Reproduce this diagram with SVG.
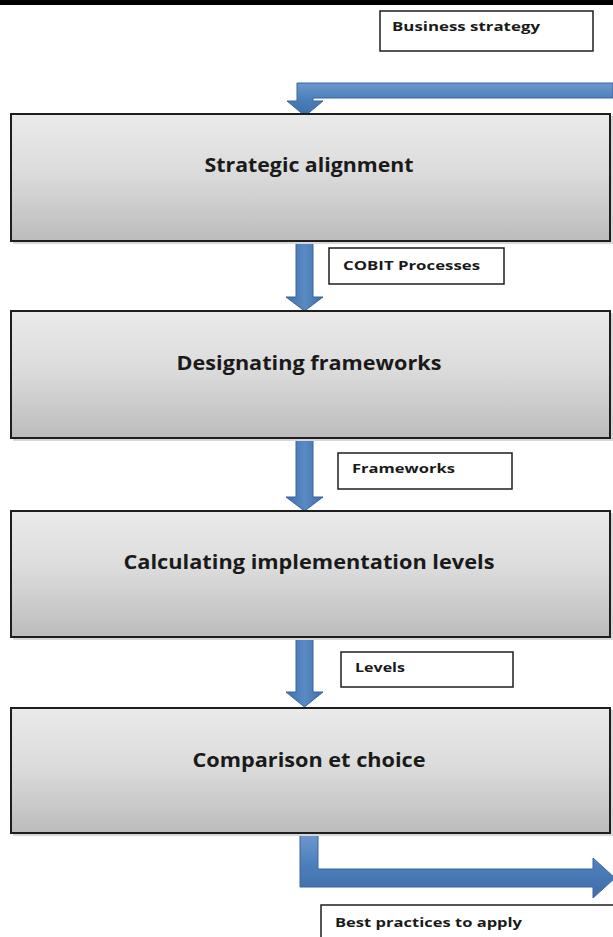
<svg xmlns="http://www.w3.org/2000/svg" width="613" height="937" viewBox="0 0 613 937">
<defs>
<linearGradient id="boxg" x1="0" y1="0" x2="0" y2="1">
<stop offset="0" stop-color="#EAEAEA"/>
<stop offset="0.45" stop-color="#DCDCDC"/>
<stop offset="1" stop-color="#BCBCBC"/>
</linearGradient>
<linearGradient id="arrh" x1="0" y1="0" x2="0" y2="1">
<stop offset="0" stop-color="#6E98CC"/>
<stop offset="0.5" stop-color="#4A7EBB"/>
<stop offset="1" stop-color="#3F6EA8"/>
</linearGradient>
<linearGradient id="arrv" x1="0" y1="0" x2="1" y2="0">
<stop offset="0" stop-color="#3F6EA8"/>
<stop offset="0.5" stop-color="#5A8AC4"/>
<stop offset="1" stop-color="#3F6EA8"/>
</linearGradient>
</defs>
<style>
.box{fill:url(#boxg);stroke:#1E1E1E;stroke-width:2}
.shadow{fill:#D8D8D8}
.lbl{fill:#FFFFFF;stroke:#1E1E1E;stroke-width:1.5}
.main{font-family:"Open Sans","Liberation Sans",sans-serif;font-weight:700;font-size:19px;fill:#1A1A1A;text-anchor:middle}
.small{font-family:"Open Sans","Liberation Sans",sans-serif;font-weight:700;font-size:12.5px;fill:#1A1A1A}
.arr{stroke:#3A659C;stroke-width:1}
</style>
<rect x="0" y="0" width="613" height="5" fill="#000000"/>

<g id="connectors">
<path class="arr" fill="url(#arrh)" d="M613,83 L297,83 L297,101 L287,101 L305,116 L323,101 L313,101 L313,98 L613,98 Z"/>
<path class="arr" fill="url(#arrv)" d="M296,242 L313,242 L313,297 L323,297 L304.5,311 L286,297 L296,297 Z"/>
<path class="arr" fill="url(#arrv)" d="M296,439 L313,439 L313,497 L323,497 L304.5,511 L286,497 L296,497 Z"/>
<path class="arr" fill="url(#arrv)" d="M296,638 L313,638 L313,692 L323,692 L304.5,707 L286,692 L296,692 Z"/>
<path class="arr" fill="url(#arrh)" d="M300,834 L318,834 L318,869 L593,869 L593,858 L615,878 L593,898 L593,887 L300,887 Z"/>
</g>

<g id="business-strategy">
<rect class="lbl" x="380" y="11" width="213" height="40"/>
<text class="small" x="392" y="31" textLength="148" lengthAdjust="spacingAndGlyphs">Business strategy</text>
</g>

<g id="strategic-alignment">
<rect class="shadow" x="13" y="116" width="600" height="128"/>
<rect class="box" x="11" y="114" width="599" height="127"/>
<text class="main" x="309" y="172" textLength="209" lengthAdjust="spacingAndGlyphs">Strategic alignment</text>
</g>

<g id="cobit-processes">
<rect class="lbl" x="329" y="248" width="175" height="36"/>
<text class="small" x="343" y="270" textLength="137" lengthAdjust="spacingAndGlyphs">COBIT Processes</text>
</g>

<g id="designating-frameworks">
<rect class="shadow" x="13" y="313" width="600" height="128"/>
<rect class="box" x="11" y="311" width="599" height="127"/>
<text class="main" x="309" y="370" textLength="265" lengthAdjust="spacingAndGlyphs">Designating frameworks</text>
</g>

<g id="frameworks">
<rect class="lbl" x="338" y="453" width="174" height="36"/>
<text class="small" x="352" y="473" textLength="103" lengthAdjust="spacingAndGlyphs">Frameworks</text>
</g>

<g id="calculating-levels">
<rect class="shadow" x="13" y="513" width="600" height="127"/>
<rect class="box" x="11" y="511" width="599" height="126"/>
<text class="main" x="309" y="569" textLength="371" lengthAdjust="spacingAndGlyphs">Calculating implementation levels</text>
</g>

<g id="levels">
<rect class="lbl" x="341" y="652" width="172" height="35"/>
<text class="small" x="355" y="672" textLength="50" lengthAdjust="spacingAndGlyphs">Levels</text>
</g>

<g id="comparison-choice">
<rect class="shadow" x="13" y="710" width="600" height="126"/>
<rect class="box" x="11" y="708" width="599" height="125"/>
<text class="main" x="309" y="767" textLength="233" lengthAdjust="spacingAndGlyphs">Comparison et choice</text>
</g>

<g id="best-practices">
<rect class="lbl" x="321" y="905" width="295" height="40"/>
<text class="small" x="335" y="927" textLength="187" lengthAdjust="spacingAndGlyphs">Best practices to apply</text>
</g>
</svg>
